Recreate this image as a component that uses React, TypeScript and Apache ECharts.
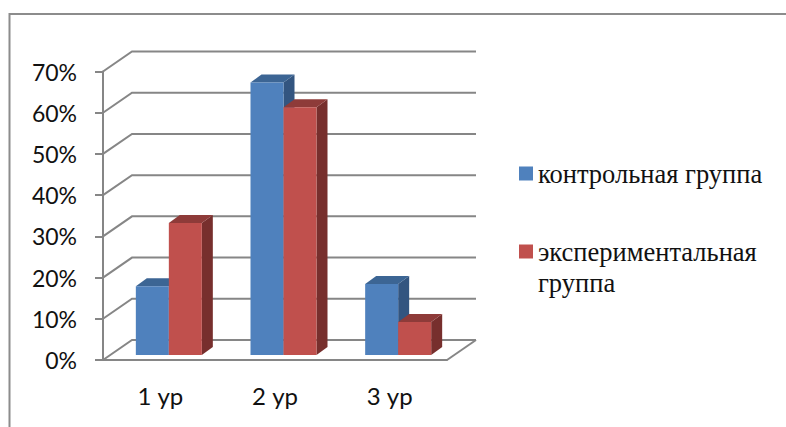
import React, { useEffect, useRef } from "react";
import * as echarts from "echarts";

const categories = ["1 ур", "2 ур", "3 ур"];
const seriesNames = ["контрольная группа", "экспериментальная группа"];
const controlValues = [16.7, 66.1, 17.2];
const experimentValues = [32, 60.1, 8];
const percentTicks = [0, 10, 20, 30, 40, 50, 60, 70];

const LINE = "#868686";
const BLUE = { front: "#4F81BD", top: "#3C6594", side: "#335580" };
const RED = { front: "#C0504D", top: "#8E3B39", side: "#772F2D" };
const WALL_DX = 29;
const WALL_DY = 20;
const BAR_W = 33;
const BAR_DX = 11;
const BAR_DY = 8;
const BAR_SHIFT_X = 8.5;
const BAR_SHIFT_Y = 5;
const SERIF = "'Liberation Serif', 'Times New Roman', serif";

function wallItem(params: any, api: any) {
  const v = api.value(0);
  const y = api.coord([0, v])[1];
  const cs = params.coordSys;
  const x0 = cs.x;
  const x1 = cs.x + cs.width;
  const style = { stroke: LINE, lineWidth: 2, fill: "none" };
  const children: any[] = [
    {
      type: "polyline",
      shape: { points: [[x0, y], [x0 + WALL_DX, y - WALL_DY], [x1 + WALL_DX, y - WALL_DY]] },
      style,
    },
  ];
  if (v === 0) {
    children.push({
      type: "line",
      shape: { x1: x1 + WALL_DX, y1: y - WALL_DY, x2: x1, y2: y },
      style,
    });
  }
  return { type: "group", children };
}

function barRenderer(colors: typeof BLUE, left: boolean) {
  return (_params: any, api: any) => {
    const cat = api.value(0);
    const base = api.coord([cat, 0]);
    const top = api.coord([cat, api.value(1)]);
    const x0 = base[0] + BAR_SHIFT_X - (left ? BAR_W : 0);
    const x1 = x0 + BAR_W;
    const yb = base[1] - BAR_SHIFT_Y;
    const yt = top[1] - BAR_SHIFT_Y;
    return {
      type: "group",
      children: [
        {
          type: "polygon",
          shape: { points: [[x1, yt], [x1 + BAR_DX, yt - BAR_DY], [x1 + BAR_DX, yb - BAR_DY], [x1, yb]] },
          style: { fill: colors.side },
        },
        {
          type: "polygon",
          shape: { points: [[x0, yt], [x0 + BAR_DX, yt - BAR_DY], [x1 + BAR_DX, yt - BAR_DY], [x1, yt]] },
          style: { fill: colors.top },
        },
        {
          type: "rect",
          shape: { x: x0, y: yt, width: BAR_W, height: yb - yt },
          style: { fill: colors.front },
        },
      ],
    };
  };
}

export default function App() {
  const ref = useRef<HTMLDivElement>(null);
  useEffect(() => {
    const chart = echarts.init(ref.current!, undefined, { renderer: "svg" });
    chart.setOption({
      animation: false,
      backgroundColor: "#fff",
      graphic: [
        {
          type: "polyline",
          silent: true,
          shape: { points: [[9.5, 427], [9.5, 14], [786, 14]] },
          style: { stroke: "#8C8C8C", lineWidth: 2, fill: "none" },
        },
      ],
      grid: { left: 103, top: 71.5, width: 344, height: 288.5 },
      xAxis: {
        type: "category",
        data: categories,
        axisLine: { lineStyle: { color: LINE, width: 2 } },
        axisTick: { length: 8, lineStyle: { color: LINE, width: 2 } },
        axisLabel: { color: "#111", fontFamily: "Lato", fontSize: 24, margin: 23 },
      },
      yAxis: {
        type: "value",
        min: 0,
        max: 70,
        interval: 10,
        splitLine: { show: false },
        axisLine: { show: true, lineStyle: { color: LINE, width: 2 } },
        axisTick: { show: true, length: 8, lineStyle: { color: LINE, width: 2 } },
        axisLabel: { formatter: "{value}%", color: "#111", fontFamily: "Lato", fontSize: 23, margin: 26 },
      },
      legend: {
        orient: "vertical",
        left: 519,
        top: 158,
        padding: 0,
        itemGap: 16,
        itemWidth: 14,
        itemHeight: 14,
        icon: "rect",
        selectedMode: false,
        formatter: (n: string) => (n === seriesNames[1] ? "\n" + n.replace(" ", "\n") : n),
        textStyle: { fontFamily: SERIF, fontSize: 26.5, color: "#111", lineHeight: 31 },
        data: seriesNames,
      },
      series: [
        {
          type: "custom",
          silent: true,
          renderItem: wallItem,
          data: percentTicks.map((v) => [v]),
          encode: { y: 0 },
        },
        {
          type: "custom",
          name: seriesNames[0],
          itemStyle: { color: BLUE.front },
          renderItem: barRenderer(BLUE, true),
          data: controlValues.map((v, i) => [i, v]),
          encode: { x: 0, y: 1 },
        },
        {
          type: "custom",
          name: seriesNames[1],
          itemStyle: { color: RED.front },
          renderItem: barRenderer(RED, false),
          data: experimentValues.map((v, i) => [i, v]),
          encode: { x: 0, y: 1 },
        },
      ],
    });
    return () => chart.dispose();
  }, []);
  return <div ref={ref} style={{ position: "absolute", left: 0, top: 0, width: 786, height: 427 }} />;
}
